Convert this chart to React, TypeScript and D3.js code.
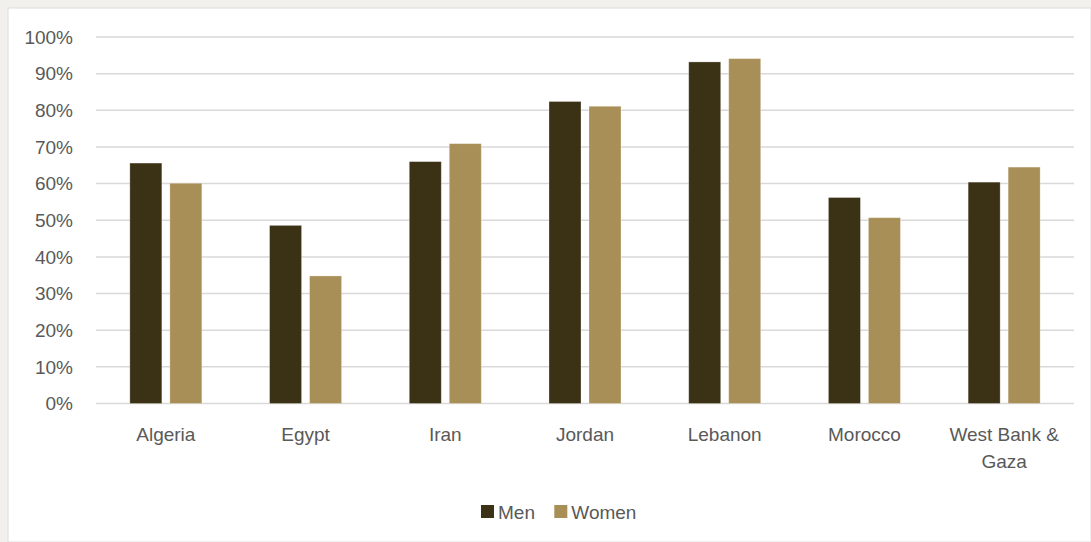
import React from "react";
import * as d3 from "d3";

const categories = ["Algeria", "Egypt", "Iran", "Jordan", "Lebanon", "Morocco", "West Bank & Gaza"];
const categoryLines = [["Algeria"], ["Egypt"], ["Iran"], ["Jordan"], ["Lebanon"], ["Morocco"], ["West Bank &", "Gaza"]];
const series = ["Men", "Women"];
const men = [65.6, 48.6, 66.0, 82.4, 93.2, 56.2, 60.4];
const women = [60.1, 34.8, 70.9, 81.1, 94.1, 50.7, 64.5];
const yTicks = [0, 10, 20, 30, 40, 50, 60, 70, 80, 90, 100];
const colors = ["#3b3115", "#a88f58"];

const W = 1091;
const H = 542;

export default function App() {
  const x = d3.scaleBand<string>().domain(categories).range([96, 1074]).padding(0);
  const y = d3.scaleLinear().domain([0, 100]).range([403.5, 37]);
  const x1 = d3.scaleBand<string>().domain(series).range([-36, 36]).paddingInner(0.2);
  const values = [men, women];
  const font = "'Liberation Sans', Arial, sans-serif";
  const textColor = "#595959";

  return (
    <div style={{ position: "fixed", left: 0, top: 0, width: W, height: H }}>
      <svg width={W} height={H} style={{ display: "block" }}>
        <rect x={0} y={0} width={W} height={H} fill="#f1f0ec" />
        <rect x={8} y={8} width={W - 8} height={H - 8} fill="#ffffff" stroke="#dcdcdc" strokeWidth={1} />
        {yTicks.map((t) => (
          <g key={t}>
            <line x1={96} x2={1074} y1={y(t)} y2={y(t)} stroke="#d9d9d9" strokeWidth={1.5} />
            <text x={73} y={y(t)} dy="0.35em" textAnchor="end" fontFamily={font} fontSize={19} fill={textColor}>
              {t}%
            </text>
          </g>
        ))}
        {categories.map((c, i) => {
          const cx = (x(c) as number) + x.bandwidth() / 2;
          return (
            <g key={c}>
              {series.map((s, j) => (
                <rect
                  key={s}
                  x={cx + (x1(s) as number)}
                  y={y(values[j][i])}
                  width={x1.bandwidth()}
                  height={y(0) - y(values[j][i])}
                  fill={colors[j]}
                  stroke="#ffffff"
                  strokeOpacity={0.35}
                  strokeWidth={0.8}
                />
              ))}
              {categoryLines[i].map((line, k) => (
                <text
                  key={k}
                  x={cx}
                  y={434 + k * 27}
                  dy="0.35em"
                  textAnchor="middle"
                  fontFamily={font}
                  fontSize={19}
                  fill={textColor}
                >
                  {line}
                </text>
              ))}
            </g>
          );
        })}
        {series.map((s, j) => {
          const lx = [481, 554.3][j];
          return (
            <g key={s}>
              <rect x={lx} y={505} width={13} height={13} fill={colors[j]} />
              <text x={lx + 17} y={512} dy="0.35em" fontFamily={font} fontSize={19} fill={textColor}>
                {s}
              </text>
            </g>
          );
        })}
      </svg>
    </div>
  );
}
